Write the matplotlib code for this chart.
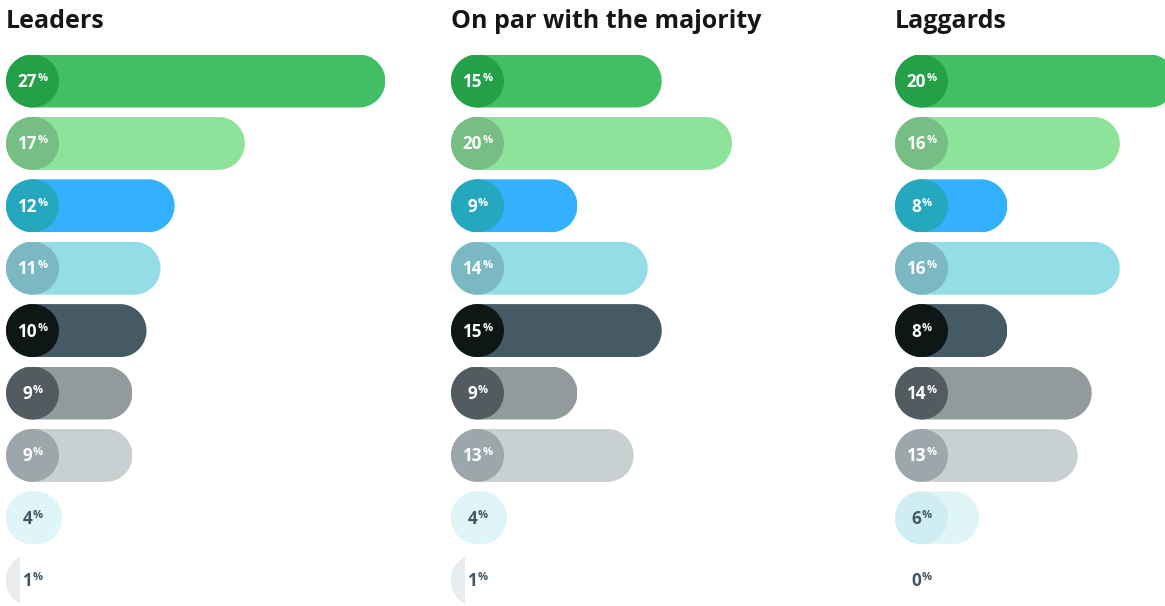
import matplotlib
matplotlib.use("Agg")
import matplotlib.pyplot as plt
from matplotlib.patches import Rectangle, Ellipse, Polygon
import matplotlib.transforms as mtransforms
import numpy as np

# ---------------- data ----------------
panels = ["Leaders", "On par with the majority", "Laggards"]
leaders = [27, 17, 12, 11, 10, 9, 9, 4, 1]
on_par = [15, 20, 9, 14, 15, 9, 13, 4, 1]
laggards = [20, 16, 8, 16, 8, 14, 13, 6, 0]

bar_colors = ["#42be65", "#8ee39a", "#33b1ff", "#94dde7", "#465a66",
              "#939a9c", "#c8d0d2", "#e0f5f8", "#e9ecef"]
circle_colors = ["#24a148", "#76be84", "#25a8be", "#7cb8c2", "#0f1616",
                 "#525b60", "#9ba7aa", "#d0eef2", "#e9ecef"]
label_colors = ["white"] * 7 + ["#435663", "#435663"]

FONT = ["Open Sans", "DejaVu Sans"]

# ---------------- layout ----------------
W, H = 1165, 606
fig = plt.figure(figsize=(W / 100, H / 100), dpi=100)
px_per_pct = 14.05
row_pitch = 62.4
first_center = 81
bar_h_px = 53
panel_left = [6, 451, 895]
panel_right = [446, 891, 1165]

renderer = fig.canvas.get_renderer()

for p, (title, vals) in enumerate(zip(panels, [leaders, on_par, laggards])):
    L, R = panel_left[p], panel_right[p]
    ax = fig.add_axes([L / W, 0, (R - L) / W, 1])
    ax.set_xlim(0, (R - L) / px_per_pct)
    ax.set_ylim((H - first_center) / row_pitch, -first_center / row_pitch)
    ax.axis("off")
    rx = bar_h_px / 2 / px_per_pct
    ry = bar_h_px / 2 / row_pitch

    ax.text(0, (28 - first_center) / row_pitch, title, fontsize=18,
            fontweight="bold", color="#161616", family=FONT,
            ha="left", va="baseline", clip_on=False)

    for i, v in enumerate(vals):
        if v > 0:
            length = max(v, 2 * rx)
            t = np.linspace(-np.pi / 2, np.pi / 2, 80)
            right = np.column_stack([length - rx + rx * np.cos(t), i + ry * np.sin(t)])
            left = np.column_stack([rx - rx * np.cos(t), i - ry * np.sin(t)])
            clip = Rectangle((0, i - ry), v, 2 * ry, transform=ax.transData)
            bar = Polygon(np.vstack([right, left]), closed=True,
                          facecolor=bar_colors[i], edgecolor="none")
            ax.add_patch(bar)
            bar.set_clip_path(clip)
            # when the bar hardly extends past the circle, the circle is not tinted
            ccol = circle_colors[i] if v - 2 * rx > 4 / px_per_pct else bar_colors[i]
            circ = Ellipse((rx, i), 2 * rx, 2 * ry, facecolor=ccol, edgecolor="none")
            ax.add_patch(circ)
            circ.set_clip_path(clip)

        # label: number + superscript %
        base_y = i + 6 / row_pitch
        t1 = ax.text(rx, base_y, f"{v}", fontsize=12.3, fontweight="bold",
                     color=label_colors[i], family=FONT, ha="left", va="baseline")
        t2 = ax.text(rx, base_y, "%", fontsize=8, fontweight="bold",
                     color=label_colors[i], family=FONT, ha="left", va="baseline")
        w1 = t1.get_window_extent(renderer).width
        w2 = t2.get_window_extent(renderer).width
        gap = 0.5
        total = w1 + gap + w2
        t1.set_transform(mtransforms.offset_copy(ax.transData, fig=fig,
                                                 x=-total / 2, y=0, units="dots"))
        t2.set_transform(mtransforms.offset_copy(ax.transData, fig=fig,
                                                 x=-total / 2 + w1 + gap, y=6,
                                                 units="dots"))

fig.savefig("out.png", dpi=100)
